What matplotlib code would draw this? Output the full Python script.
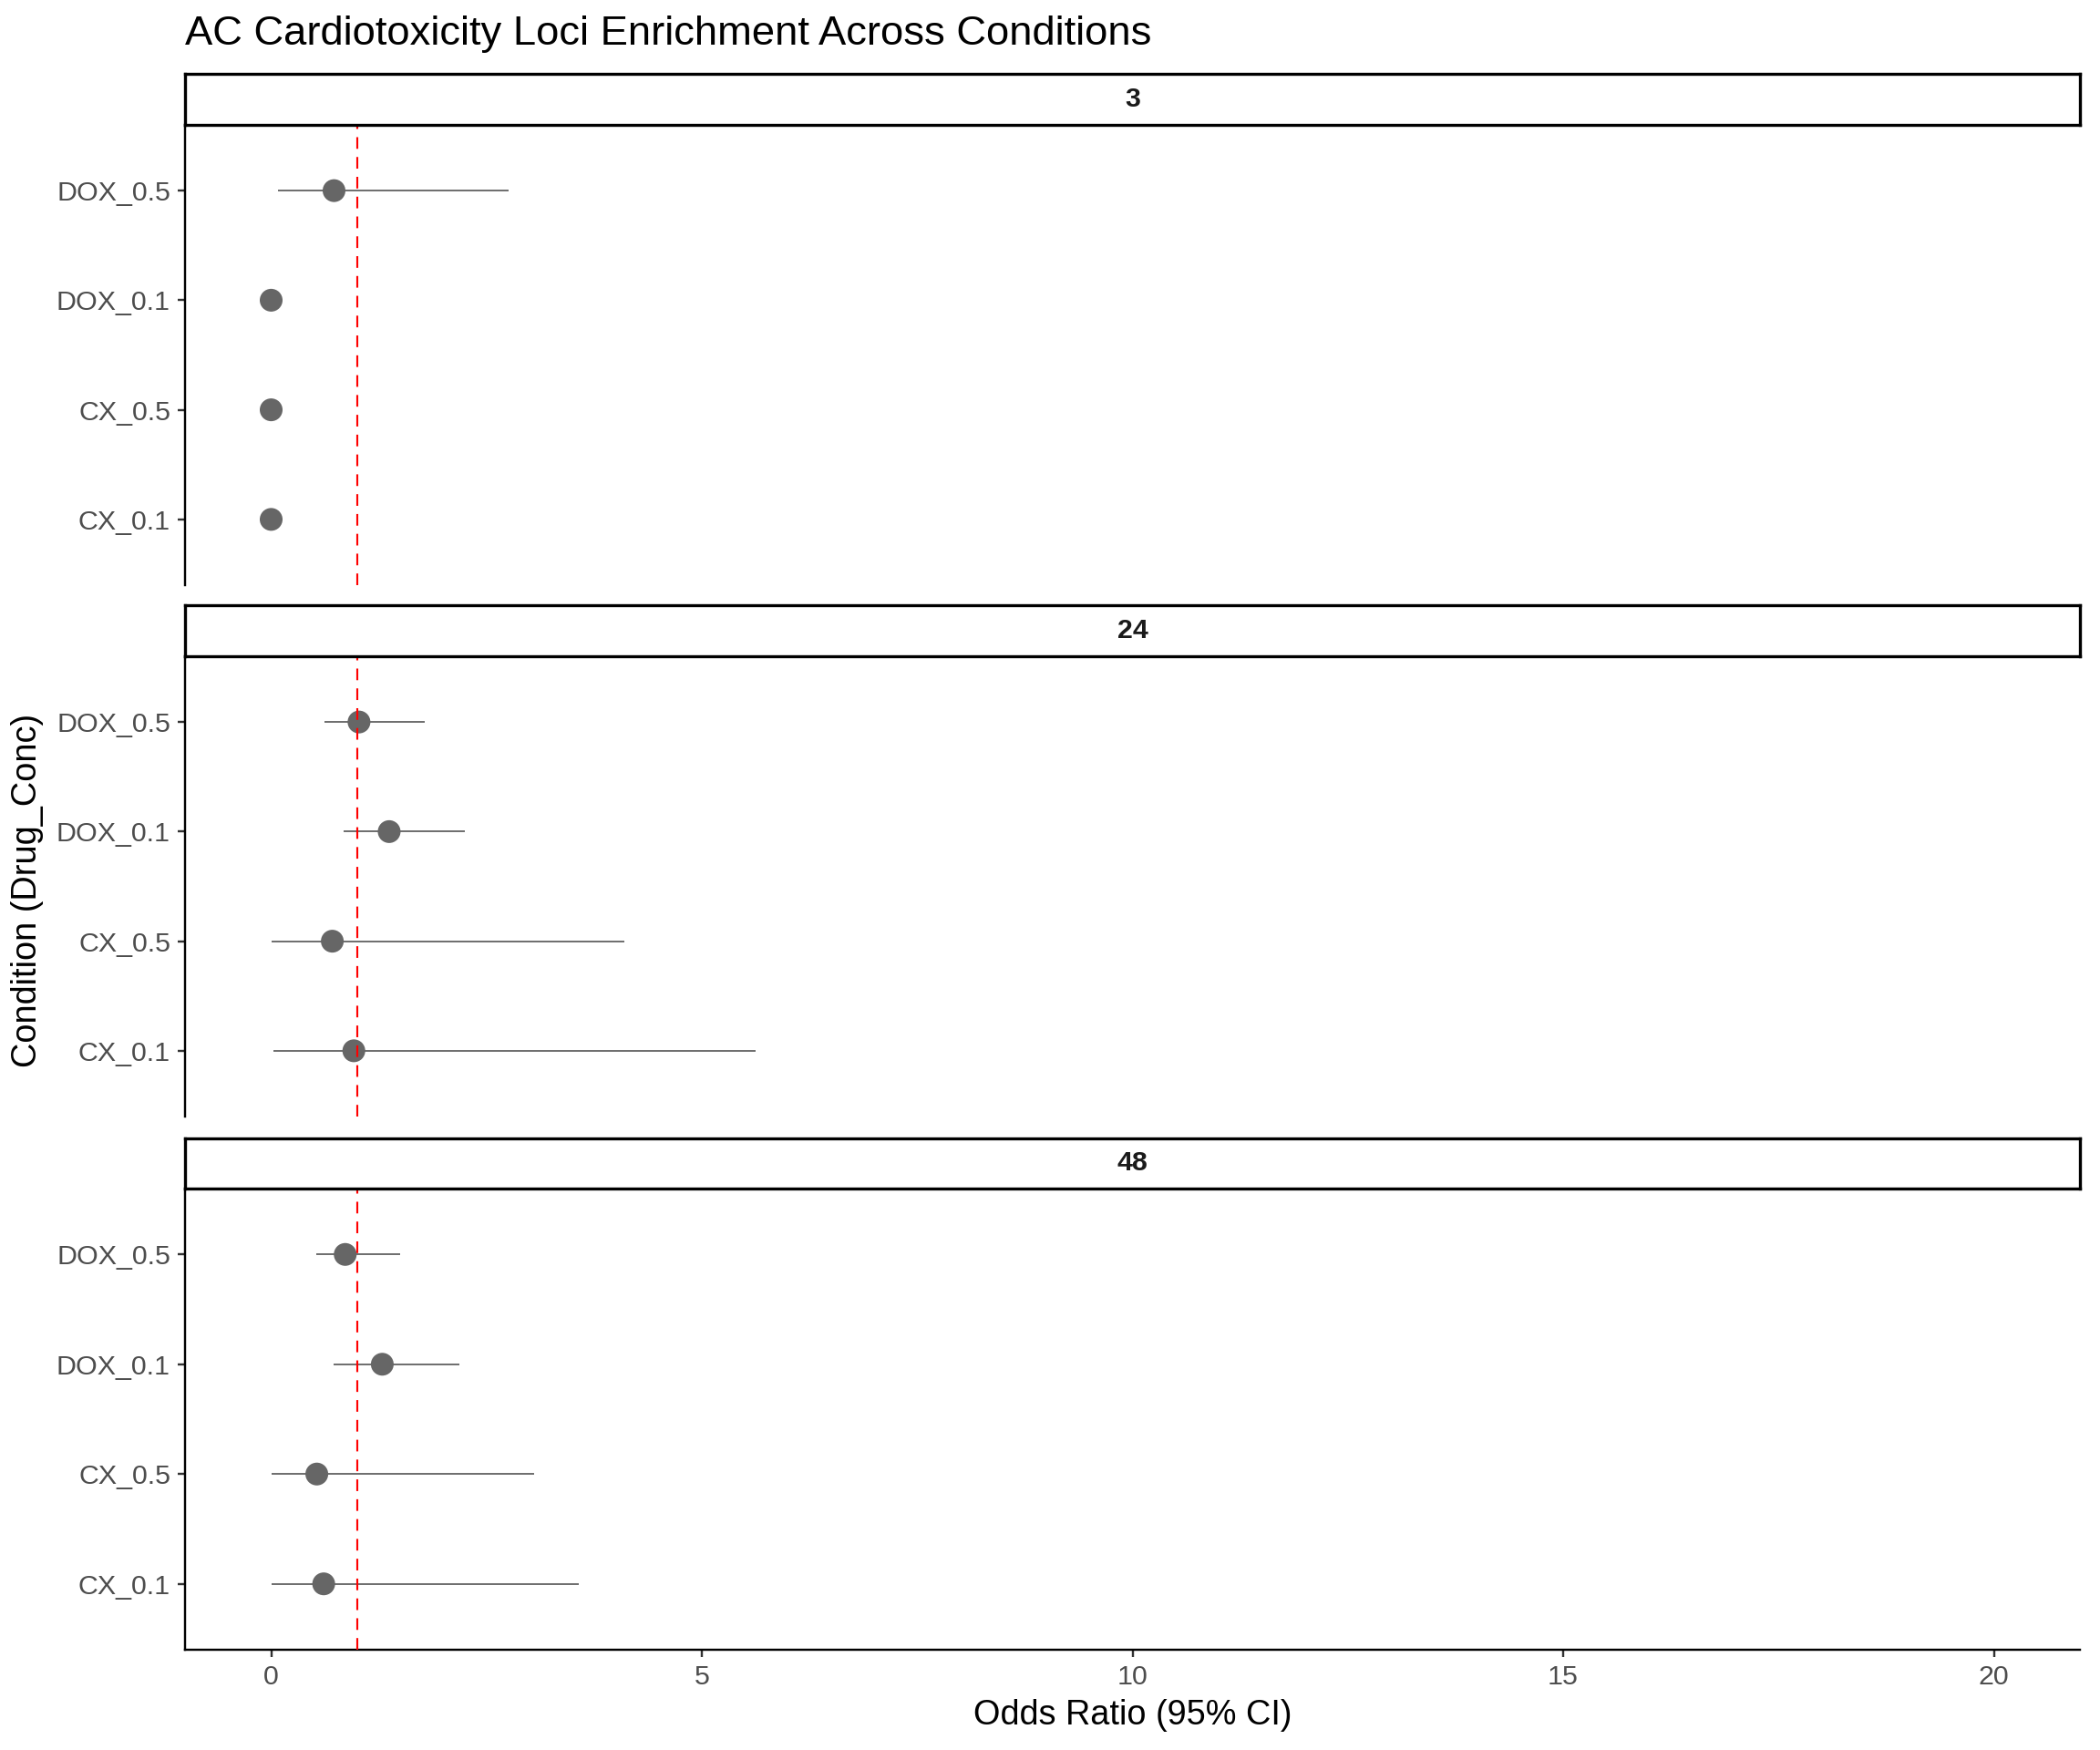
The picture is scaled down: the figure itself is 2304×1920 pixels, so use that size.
import matplotlib.pyplot as plt

plt.rcParams['font.family'] = ['Liberation Sans', 'DejaVu Sans']

# data
conditions = ["CX_0.1", "CX_0.5", "DOX_0.1", "DOX_0.5"]
timepoints = ["3", "24", "48"]

or_3 = [0.0, 0.0, 0.0, 0.73]
lo_3 = [0.0, 0.0, 0.0, 0.08]
hi_3 = [0.0, 0.0, 0.0, 2.76]

or_24 = [0.96, 0.71, 1.37, 1.02]
lo_24 = [0.03, 0.01, 0.84, 0.62]
hi_24 = [5.62, 4.10, 2.25, 1.78]

or_48 = [0.61, 0.53, 1.29, 0.86]
lo_48 = [0.01, 0.01, 0.73, 0.52]
hi_48 = [3.57, 3.05, 2.18, 1.50]

odds = [or_3, or_24, or_48]
lows = [lo_3, lo_24, lo_48]
highs = [hi_3, hi_24, hi_48]

W, H = 2304, 1920
fig = plt.figure(figsize=(12, 10), dpi=192)

left, right = 203, 2282
# (strip top, strip bottom, panel bottom) in pixels from top
boxes = [(81, 137, 642), (664, 720, 1225), (1249, 1304, 1810)]

grey = "#666666"
tick_fs = 11.4
for i, (st, sb, pb) in enumerate(boxes):
    # panel
    ax = fig.add_axes([left / W, 1 - pb / H, (right - left) / W, (pb - sb) / H])
    ypos = list(range(1, len(conditions) + 1))
    ax.hlines(ypos, lows[i], highs[i], color=grey, linewidth=0.7, zorder=2)
    ax.scatter(odds[i], ypos, s=88, color=grey, edgecolors="none", zorder=3)
    ax.axvline(1, color="red", linestyle=(0, (6, 4.2)), linewidth=0.8, zorder=4)
    ax.set_xlim(-1.0, 21.0)
    ax.set_ylim(0.4, 4.6)
    ax.set_yticks(ypos)
    ax.set_yticklabels(conditions, fontsize=tick_fs, color="#4D4D4D")
    ax.spines["top"].set_visible(False)
    ax.spines["right"].set_visible(False)
    ax.spines["left"].set_linewidth(0.9)
    ax.tick_params(axis="y", length=3, width=0.9, color="#333333", pad=3)
    if i < 2:
        ax.spines["bottom"].set_visible(False)
        ax.set_xticks([])
    else:
        ax.spines["bottom"].set_linewidth(0.9)
        ax.set_xticks([0, 5, 10, 15, 20])
        ax.set_xticklabels(["0", "5", "10", "15", "20"], fontsize=tick_fs, color="#4D4D4D")
        ax.tick_params(axis="x", length=3, width=0.9, color="#333333", pad=3)

    # strip, drawn on top of the panel
    sax = fig.add_axes([left / W, 1 - sb / H, (right - left) / W, (sb - st) / H])
    sax.set_zorder(5)
    sax.set_xticks([])
    sax.set_yticks([])
    for s in sax.spines.values():
        s.set_linewidth(1.25)
        s.set_color("black")
    sax.text(0.5, 0.5, timepoints[i], ha="center", va="center",
             fontsize=tick_fs, fontweight="bold", color="#1A1A1A", transform=sax.transAxes)

fig.text(left / W, 1 - 37 / H, "AC Cardiotoxicity Loci Enrichment Across Conditions",
         ha="left", va="center", fontsize=17, color="black")
fig.text((left + right) / 2 / W, 1 - 1882 / H, "Odds Ratio (95% CI)",
         ha="center", va="center", fontsize=14.2, color="black")
fig.text(30 / W, 1 - 977 / H, "Condition (Drug_Conc)", rotation=90,
         ha="center", va="center", fontsize=14.2, color="black")

plt.savefig("out.png", dpi=192)
